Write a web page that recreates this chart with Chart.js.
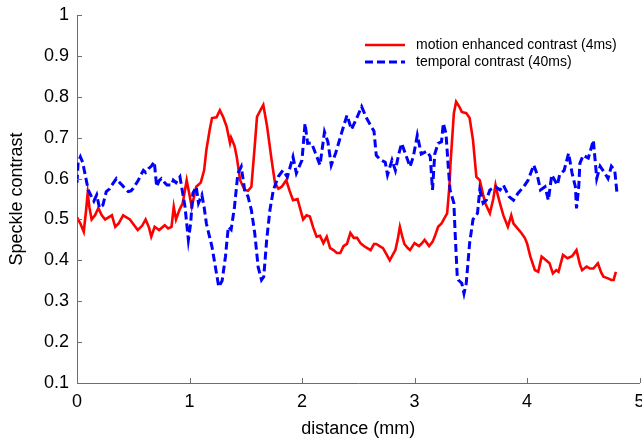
<!DOCTYPE html>
<html>
<head>
<meta charset="utf-8">
<script src="https://cdn.jsdelivr.net/npm/chart.js@4/dist/chart.umd.min.js"></script>
<style>
html,body{margin:0;padding:0;background:#fff;}
#wrap{width:642px;height:444px;position:relative;}
</style>
</head>
<body>
<div id="wrap"><canvas id="c" width="642" height="444"></canvas></div>
<script>
const seriesLabels = ['motion enhanced contrast (4ms)', 'temporal contrast (40ms)'];
const xTickValues = [0, 1, 2, 3, 4, 5];
const xTickLabels = ['0', '1', '2', '3', '4', '5'];
const yTickValues = [0.1, 0.2, 0.3, 0.4, 0.5, 0.6, 0.7, 0.8, 0.9, 1];
const yTickLabels = ['0.1', '0.2', '0.3', '0.4', '0.5', '0.6', '0.7', '0.8', '0.9', '1'];
const xAxisTitle = 'distance (mm)';
const yAxisTitle = 'Speckle contrast';

const distMotion = [0.0,0.03,0.06,0.08,0.095,0.11,0.13,0.16,0.19,0.22,0.25,0.28,0.31,0.34,0.37,0.41,0.44,0.47,0.51,0.54,0.58,0.61,0.64,0.66,0.69,0.73,0.78,0.81,0.84,0.86,0.88,0.91,0.94,0.975,1.0,1.02,1.06,1.1,1.13,1.15,1.18,1.2,1.24,1.27,1.3,1.33,1.36,1.37,1.4,1.42,1.45,1.49,1.52,1.55,1.58,1.6,1.63,1.656,1.69,1.73,1.76,1.79,1.82,1.86,1.89,1.92,1.96,2.01,2.04,2.07,2.1,2.13,2.16,2.19,2.22,2.25,2.28,2.31,2.34,2.37,2.4,2.43,2.46,2.49,2.52,2.55,2.58,2.61,2.64,2.66,2.69,2.72,2.75,2.78,2.81,2.83,2.85,2.87,2.89,2.91,2.94,2.96,3.0,3.04,3.06,3.09,3.13,3.16,3.18,3.21,3.24,3.26,3.29,3.31,3.32,3.35,3.37,3.4,3.42,3.46,3.49,3.52,3.55,3.58,3.61,3.63,3.67,3.7,3.72,3.74,3.76,3.79,3.83,3.86,3.88,3.91,3.95,3.98,4.0,4.03,4.07,4.1,4.13,4.17,4.2,4.23,4.26,4.28,4.32,4.36,4.4,4.44,4.47,4.49,4.53,4.56,4.59,4.63,4.66,4.68,4.72,4.75,4.77,4.79];
const motionContrast = [0.505,0.49,0.47,0.52,0.565,0.53,0.5,0.51,0.528,0.51,0.5,0.505,0.51,0.482,0.49,0.51,0.505,0.5,0.485,0.474,0.485,0.5,0.48,0.458,0.482,0.474,0.486,0.478,0.482,0.531,0.5,0.523,0.54,0.596,0.56,0.531,0.58,0.59,0.62,0.67,0.72,0.748,0.75,0.767,0.75,0.727,0.687,0.70,0.68,0.653,0.596,0.572,0.57,0.58,0.68,0.751,0.767,0.78,0.727,0.645,0.589,0.575,0.58,0.596,0.57,0.547,0.55,0.5,0.51,0.507,0.48,0.458,0.46,0.442,0.458,0.43,0.425,0.418,0.418,0.435,0.44,0.467,0.455,0.455,0.442,0.435,0.43,0.425,0.44,0.44,0.435,0.43,0.415,0.4,0.415,0.425,0.45,0.482,0.46,0.44,0.43,0.425,0.442,0.435,0.44,0.45,0.435,0.445,0.458,0.482,0.49,0.5,0.515,0.58,0.637,0.76,0.788,0.775,0.763,0.76,0.748,0.694,0.604,0.596,0.56,0.539,0.515,0.55,0.584,0.56,0.539,0.51,0.482,0.51,0.49,0.48,0.467,0.455,0.442,0.409,0.376,0.372,0.409,0.4,0.393,0.368,0.376,0.372,0.413,0.405,0.41,0.425,0.39,0.376,0.385,0.38,0.38,0.393,0.37,0.36,0.356,0.352,0.352,0.372];

const distTemporal = [0.0,0.01,0.03,0.05,0.07,0.1,0.13,0.15,0.175,0.2,0.23,0.26,0.29,0.31,0.35,0.38,0.4,0.43,0.456,0.48,0.5,0.545,0.57,0.59,0.61,0.635,0.66,0.687,0.708,0.73,0.75,0.78,0.8,0.84,0.856,0.88,0.915,0.93,0.96,0.99,1.01,1.03,1.06,1.08,1.11,1.13,1.15,1.2,1.23,1.26,1.29,1.32,1.345,1.37,1.4,1.43,1.46,1.49,1.52,1.55,1.58,1.61,1.64,1.66,1.686,1.715,1.745,1.79,1.83,1.87,1.92,1.95,2.0,2.027,2.05,2.085,2.12,2.16,2.2,2.23,2.26,2.3,2.35,2.4,2.44,2.49,2.53,2.57,2.6,2.64,2.66,2.7,2.74,2.76,2.8,2.83,2.86,2.886,2.92,2.96,2.99,3.025,3.06,3.11,3.14,3.16,3.18,3.21,3.24,3.256,3.28,3.3,3.316,3.35,3.36,3.38,3.39,3.42,3.44,3.46,3.49,3.52,3.56,3.58,3.61,3.64,3.67,3.72,3.76,3.79,3.84,3.88,3.92,3.97,4.01,4.06,4.09,4.12,4.16,4.19,4.22,4.27,4.29,4.33,4.35,4.37,4.4,4.43,4.44,4.46,4.47,4.5,4.545,4.59,4.6,4.62,4.65,4.69,4.72,4.75,4.78,4.8];
const temporalContrast = [0.59,0.64,0.653,0.64,0.613,0.572,0.555,0.545,0.56,0.528,0.535,0.568,0.575,0.584,0.6,0.59,0.584,0.575,0.568,0.57,0.576,0.596,0.61,0.62,0.615,0.624,0.63,0.641,0.58,0.595,0.6,0.59,0.584,0.584,0.596,0.59,0.604,0.58,0.531,0.45,0.49,0.564,0.58,0.54,0.56,0.53,0.49,0.433,0.384,0.335,0.35,0.41,0.482,0.475,0.531,0.613,0.629,0.572,0.556,0.523,0.466,0.384,0.352,0.36,0.45,0.523,0.572,0.605,0.62,0.604,0.653,0.613,0.645,0.735,0.686,0.687,0.662,0.633,0.714,0.69,0.633,0.663,0.71,0.755,0.72,0.75,0.776,0.75,0.735,0.716,0.657,0.645,0.64,0.609,0.645,0.62,0.66,0.686,0.66,0.629,0.654,0.706,0.66,0.667,0.654,0.572,0.66,0.686,0.69,0.735,0.71,0.629,0.572,0.54,0.474,0.36,0.352,0.344,0.319,0.344,0.442,0.5,0.515,0.572,0.54,0.548,0.572,0.58,0.572,0.584,0.556,0.547,0.564,0.58,0.596,0.633,0.61,0.572,0.58,0.547,0.609,0.584,0.609,0.62,0.641,0.662,0.614,0.58,0.527,0.58,0.637,0.657,0.65,0.694,0.662,0.6,0.63,0.614,0.6,0.63,0.62,0.564];

const FONT = '"Liberation Sans", Arial, sans-serif';
const AXIS_COLOR = '#6e6e6e';

const inwardTicks = {
  id: 'inwardTicks',
  afterDraw(chart) {
    const ctx = chart.ctx, xs = chart.scales.x, ys = chart.scales.y, a = chart.chartArea;
    ctx.save();
    ctx.strokeStyle = AXIS_COLOR;
    ctx.lineWidth = 1;
    ctx.beginPath();
    xs.ticks.forEach(t => {
      const px = Math.round(xs.getPixelForValue(t.value)) + 0.5;
      ctx.moveTo(px, a.bottom); ctx.lineTo(px, a.bottom - 5);
    });
    ys.ticks.forEach(t => {
      const py = Math.round(ys.getPixelForValue(t.value)) + 0.5;
      ctx.moveTo(a.left, py); ctx.lineTo(a.left + 5, py);
    });
    ctx.stroke();
    ctx.restore();
  }
};

const insideLegend = {
  id: 'insideLegend',
  afterDraw(chart) {
    const ctx = chart.ctx;
    const x0 = 365, x1 = 405, tx = 416, y0 = 45, dy = 17;
    ctx.save();
    ctx.font = '14px ' + FONT;
    ctx.textBaseline = 'middle';
    chart.data.datasets.forEach((ds, i) => {
      const y = y0 + i * dy;
      ctx.strokeStyle = ds.borderColor;
      ctx.lineWidth = ds.borderWidth;
      ctx.setLineDash(ds.borderDash || []);
      ctx.beginPath(); ctx.moveTo(x0, y); ctx.lineTo(x1, y); ctx.stroke();
      ctx.setLineDash([]);
      ctx.fillStyle = '#000';
      ctx.fillText(ds.label, tx, y);
    });
    ctx.restore();
  }
};

new Chart(document.getElementById('c'), {
  type: 'line',
  data: {
    datasets: [
      {
        label: seriesLabels[0],
        data: distMotion.map((d, i) => ({x: d, y: motionContrast[i]})),
        borderColor: '#ff0000',
        borderWidth: 2.6,
        pointRadius: 0,
        tension: 0,
        order: 1
      },
      {
        label: seriesLabels[1],
        data: distTemporal.map((d, i) => ({x: d, y: temporalContrast[i]})),
        borderColor: '#0000ff',
        borderWidth: 3,
        borderDash: [8, 4],
        pointRadius: 0,
        tension: 0,
        order: 0
      }
    ]
  },
  options: {
    responsive: false,
    animation: false,
    events: [],
    layout: {padding: {left: 0, right: 2.5, top: 15, bottom: 0}},
    plugins: {legend: {display: false}, tooltip: {enabled: false}},
    scales: {
      x: {
        type: 'linear',
        min: 0, max: 5,
        afterBuildTicks: s => { s.ticks = xTickValues.map(v => ({value: v})); },
        afterFit: s => { s.height = 61; s.paddingLeft = 0; s.paddingRight = 0; },
        grid: {display: false, drawTicks: false},
        border: {display: true, color: AXIS_COLOR, width: 1},
        ticks: {color: '#000', font: {family: FONT, size: 18}, padding: 8, maxRotation: 0, autoSkip: false,
          callback: (v, i) => xTickLabels[i]},
        title: {display: true, text: xAxisTitle, color: '#000', font: {family: FONT, size: 18}, padding: {top: 4, bottom: 4}}
      },
      y: {
        type: 'linear',
        min: 0.1, max: 1,
        afterBuildTicks: s => { s.ticks = yTickValues.map(v => ({value: v})); },
        afterFit: s => { s.width = 77; s.paddingTop = 0; s.paddingBottom = 0; },
        grid: {display: false, drawTicks: false},
        border: {display: true, color: AXIS_COLOR, width: 1},
        ticks: {color: '#000', font: {family: FONT, size: 18}, padding: 8, autoSkip: false,
          callback: (v, i) => yTickLabels[i]},
        title: {display: true, text: yAxisTitle, color: '#000', font: {family: FONT, size: 18}, padding: {top: 6, bottom: 4}}
      }
    }
  },
  plugins: [inwardTicks, insideLegend]
});
</script>
</body>
</html>
